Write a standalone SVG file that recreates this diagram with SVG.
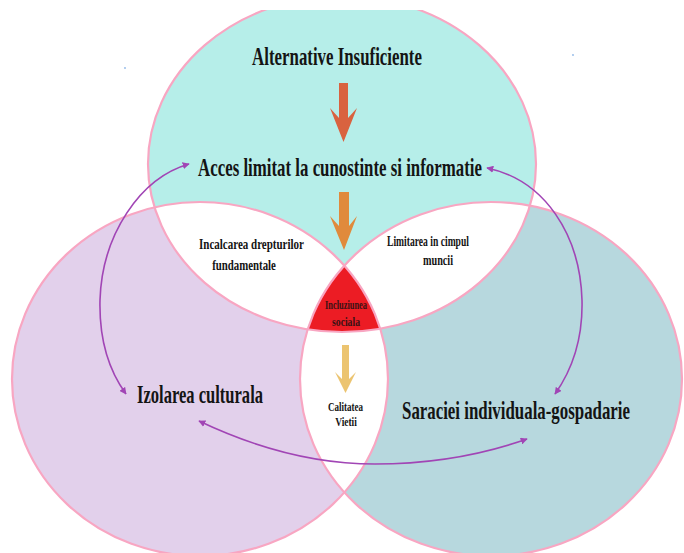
<svg xmlns="http://www.w3.org/2000/svg" width="684" height="553" viewBox="0 0 684 553">
  <style>
    .lbl { font-family: "Liberation Serif", "Times New Roman", serif; font-weight: bold; fill: #141414; text-anchor: middle; }
    .big { font-size: 25px; }
    .mid { font-size: 15px; }
    .sml { font-size: 12px; }
    .rim { fill: none; stroke: #f8a6c2; stroke-width: 2.2; }
    .link { fill: none; stroke: #a145b5; stroke-width: 1.6; }
  </style>
  <defs>
    <ellipse id="eTop" cx="342" cy="164" rx="194" ry="168"/>
    <ellipse id="eLeft" cx="200" cy="379" rx="188" ry="177"/>
    <ellipse id="eRight" cx="491" cy="379" rx="191" ry="177"/>
    <clipPath id="cTop"><use href="#eTop"/></clipPath>
    <clipPath id="cLeft"><use href="#eLeft"/></clipPath>
    <clipPath id="cRight"><use href="#eRight"/></clipPath>
    <marker id="head" viewBox="0 0 10 10" refX="9" refY="5" markerWidth="7" markerHeight="7" markerUnits="userSpaceOnUse" orient="auto-start-reverse">
      <path d="M0,0 L10,5 L0,10 Z" fill="#a145b5"/>
    </marker>
  </defs>

  <rect width="684" height="553" fill="#ffffff"/>

  <!-- base circles -->
  <g id="circles">
    <use href="#eLeft" fill="#e2d0eb"/>
    <use href="#eRight" fill="#b7d8de"/>
    <use href="#eTop" fill="#b6eee9"/>
    <!-- pairwise overlaps -->
    <g clip-path="url(#cTop)"><use href="#eLeft" fill="#ffffff"/><use href="#eRight" fill="#ffffff"/></g>
    <g clip-path="url(#cLeft)"><use href="#eRight" fill="#ffffff"/></g>
    <!-- triple overlap -->
    <g clip-path="url(#cLeft)"><g clip-path="url(#cRight)"><use href="#eTop" fill="#ec1c24"/></g></g>
    <use href="#eLeft" class="rim"/>
    <use href="#eRight" class="rim"/>
    <use href="#eTop" class="rim"/>
  </g>
  <!-- margin above the top circle -->
  <rect x="0" y="0" width="684" height="10" fill="#ffffff"/>
  <circle cx="125" cy="68" r="0.9" fill="#8fb8e8"/>
  <circle cx="573" cy="55" r="0.9" fill="#8fb8e8"/>

  <!-- block arrows -->
  <g id="arrows-down">
    <polygon points="339,83 348,83 348,118 357,108 343.5,142 330,108 339,118" fill="#d9623f"/>
    <polygon points="339,192 349,192 349,226 357,216 344,250 330,216 339,226" fill="#e08a3c"/>
    <polygon points="342,345 349,345 349,379 356,372 345.5,393 335,372 342,379" fill="#ecc470"/>
  </g>

  <!-- connectors -->
  <g id="connectors">
    <path class="link" d="M189,164 C140,178 102,235 100,300 C99,340 110,372 126,394" marker-start="url(#head)" marker-end="url(#head)"/>
    <path class="link" d="M487,168 C545,180 580,235 582,300 C583,340 572,370 555,394" marker-start="url(#head)" marker-end="url(#head)"/>
    <path class="link" d="M199,421 C260,450 320,464 375,464 C440,464 490,452 527,439" marker-start="url(#head)" marker-end="url(#head)"/>
  </g>

  <!-- labels: narrow bold serif, squeezed horizontally -->
  <g id="n-alternative"><text class="lbl big" transform="translate(337,65) scale(0.6,1)" textLength="283" lengthAdjust="spacingAndGlyphs">Alternative Insuficiente</text></g>
  <g id="n-acces"><text class="lbl big" transform="translate(340,176) scale(0.6,1)" textLength="473" lengthAdjust="spacingAndGlyphs">Acces limitat la cunostinte si informatie</text></g>
  <g id="n-incalcarea">
    <text class="lbl mid" transform="translate(251.5,249) scale(0.7,1)" textLength="150" lengthAdjust="spacingAndGlyphs">Incalcarea drepturilor</text>
    <text class="lbl mid" transform="translate(244,270) scale(0.7,1)" textLength="91" lengthAdjust="spacingAndGlyphs">fundamentale</text>
  </g>
  <g id="n-limitarea">
    <text class="lbl mid" transform="translate(428,246) scale(0.7,1)" textLength="117" lengthAdjust="spacingAndGlyphs">Limitarea in cimpul</text>
    <text class="lbl mid" transform="translate(438,265) scale(0.7,1)" textLength="43" lengthAdjust="spacingAndGlyphs">muncii</text>
  </g>
  <g id="n-incluziunea">
    <text class="lbl sml" transform="translate(346,309) scale(0.7,1)" textLength="60" lengthAdjust="spacingAndGlyphs" style="fill:#3a1214">Incluziunea</text>
    <text class="lbl sml" transform="translate(346,326) scale(0.7,1)" textLength="40" lengthAdjust="spacingAndGlyphs" style="fill:#3a1214">sociala</text>
  </g>
  <g id="n-calitatea">
    <text class="lbl sml" transform="translate(345.5,411) scale(0.7,1)" textLength="50" lengthAdjust="spacingAndGlyphs">Calitatea</text>
    <text class="lbl sml" transform="translate(346,426) scale(0.7,1)" textLength="31" lengthAdjust="spacingAndGlyphs">Vietii</text>
  </g>
  <g id="n-izolarea"><text class="lbl big" transform="translate(200,403) scale(0.6,1)" textLength="210" lengthAdjust="spacingAndGlyphs" style="font-size:26px">Izolarea culturala</text></g>
  <g id="n-saraciei"><text class="lbl big" transform="translate(516,419) scale(0.6,1)" textLength="380" lengthAdjust="spacingAndGlyphs" style="font-size:26px">Saraciei individuala-gospadarie</text></g>
</svg>
